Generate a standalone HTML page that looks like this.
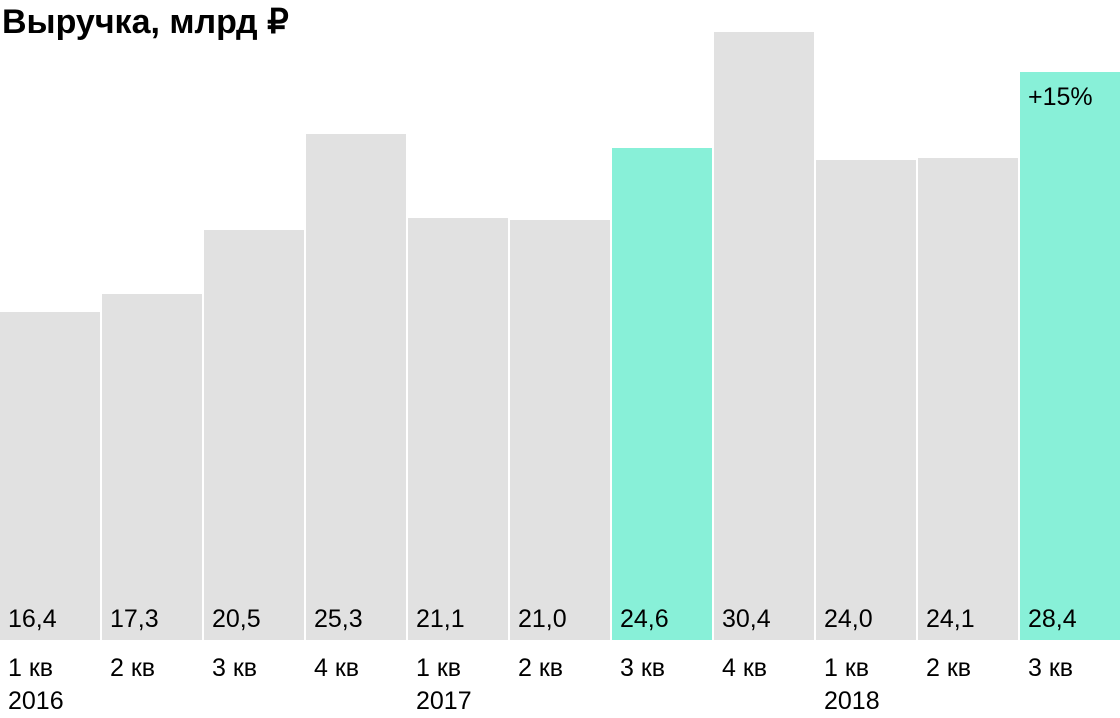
<!DOCTYPE html>
<html><head><meta charset="utf-8"><style>
body{margin:0;background:#fff;width:1120px;height:718px;overflow:hidden;font-family:"Liberation Sans","Noto Sans CJK SC",sans-serif}
</style></head><body>
<svg width="1120" height="718" style="display:block">
<text x="2" y="33" font-size="34" font-weight="bold" fill="#000">Выручка, млрд ₽</text>
<g id="bars"></g>
</svg>
<script>
const categories=["1 кв","2 кв","3 кв","4 кв","1 кв","2 кв","3 кв","4 кв","1 кв","2 кв","3 кв"];
const years=["2016","","","","2017","","","","2018","",""];
const values=[16.4,17.3,20.5,25.3,21.1,21.0,24.6,30.4,24.0,24.1,28.4];
const highlighted=[false,false,false,false,false,false,true,false,false,false,true];
const annotations=["","","","","","","","","","","+15%"];
const baseY=640, pxPerUnit=20, step=102, barW=100;
const x=i=>i*step;
const y=v=>baseY-v*pxPerUnit;
const g=document.getElementById('bars');
const NS="http://www.w3.org/2000/svg";
values.forEach((v,i)=>{
  const r=document.createElementNS(NS,'rect');
  
  
  r.setAttribute('x',x(i));r.setAttribute('y',y(v));
  r.setAttribute('width',barW);r.setAttribute('height',baseY-y(v));
  r.setAttribute('fill',highlighted[i]?'#88f0d8':'#e1e1e1');
  g.appendChild(r);
  const t=document.createElementNS(NS,'text');
  
  
  t.setAttribute('x',x(i)+8);t.setAttribute('y',627);
  t.setAttribute('font-size','25');
  t.textContent=v.toFixed(1).replace('.',',');
  g.appendChild(t);
  const c=document.createElementNS(NS,'text');
  
  
  c.setAttribute('x',x(i)+8);c.setAttribute('y',676);
  c.setAttribute('font-size','25');
  c.textContent=categories[i];
  g.appendChild(c);
  if(years[i]){
    const yl=document.createElementNS(NS,'text');
    
    
    yl.setAttribute('x',x(i)+8);yl.setAttribute('y',709);
    yl.setAttribute('font-size','25');
    yl.textContent=years[i];
    g.appendChild(yl);
  }
  if(annotations[i]){
    const a=document.createElementNS(NS,'text');
    
    
    a.setAttribute('x',x(i)+8);a.setAttribute('y',y(v)+33);
    a.setAttribute('font-size','25');
    a.textContent=annotations[i];
    g.appendChild(a);
  }
});
</script>
</body></html>
